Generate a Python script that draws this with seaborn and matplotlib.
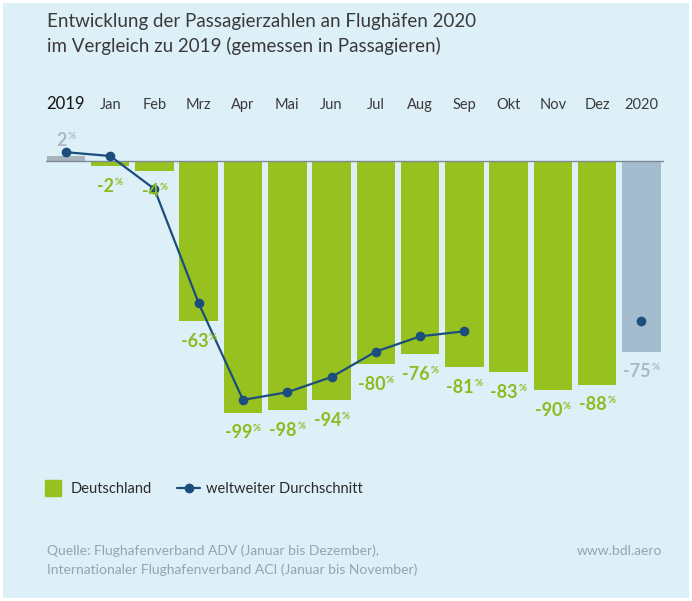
import numpy as np
import pandas as pd
import matplotlib
matplotlib.use("Agg")
import matplotlib.pyplot as plt
import seaborn as sns
from matplotlib.lines import Line2D
from matplotlib.patches import Rectangle
from matplotlib.offsetbox import TextArea, HPacker, AnnotationBbox

# data
categories = ['2019', 'Jan', 'Feb', 'Mrz', 'Apr', 'Mai', 'Jun', 'Jul', 'Aug', 'Sep',
              'Okt', 'Nov', 'Dez', '2020']
deutschland = [2, -2, -4, -63, -99, -98, -94, -80, -76, -81, -83, -90, -88, -75]
welt_monate = ['2019', 'Jan', 'Feb', 'Mrz', 'Apr', 'Mai', 'Jun', 'Jul', 'Aug', 'Sep']
welt = [3.5, 2, -11, -56, -94, -91, -85, -75, -69, -67]
welt_2020 = -63

bg = '#ddf0f8'
green = '#97c11f'
green_txt = '#8dbb1f'
gray_2019 = '#a9b3bc'
gray_2020 = '#a4bccd'
gray_txt = '#a9b8c5'
blue = '#1b4e7c'

sns.set_style('white')
plt.rcParams['font.family'] = ['Lato', 'DejaVu Sans']

df = pd.DataFrame({'monat': categories, 'wert': deutschland})
bar_cols = [gray_2019] + [green] * 12 + [gray_2020]

fig = plt.figure(figsize=(6.92, 6.01), dpi=100)
fig.patch.set_facecolor('white')
fig.patches.append(Rectangle((3 / 692, 3 / 601), 686 / 692, 595 / 601,
                             transform=fig.transFigure, facecolor=bg,
                             edgecolor='none', zorder=-10))

ax = fig.add_axes([46 / 692, 1 - 440 / 601, 617.6 / 692, 300 / 601])
ax.set_facecolor('none')

sns.barplot(data=df, x='monat', y='wert', hue='monat', palette=bar_cols,
            legend=False, width=0.87, saturation=1, linewidth=0, ax=ax, zorder=2)

ax.axhline(0, color='#7d8a95', lw=1, zorder=3)

# weltweiter Durchschnitt
sns.lineplot(x=np.arange(len(welt)), y=welt, color=blue, lw=1.6, marker='o',
             markersize=7, markeredgewidth=0, ax=ax, zorder=5)
ax.plot([13], [welt_2020], 'o', color=blue, markersize=7, markeredgewidth=0, zorder=5)

ax.set_xlim(-0.45, 13.5)
ax.set_ylim(-109.8, 8.3)
ax.set_xlabel('')
ax.set_ylabel('')
ax.set_yticks([])
for s in ax.spines.values():
    s.set_visible(False)

ax.xaxis.set_ticks_position('top')
ax.tick_params(axis='x', length=0, pad=20, labelsize=10.5, labelcolor='#3a3a3a')
lbl0 = ax.get_xticklabels()[0]
lbl0.set_fontsize(12)
lbl0.set_color('#111111')

# value labels with small superscript %
for i, v in enumerate(deutschland):
    col = gray_txt if categories[i] in ('2019', '2020') else green_txt
    num = TextArea(str(v), textprops=dict(color=col, fontsize=13, fontweight='bold'))
    pct = TextArea('%', textprops=dict(color=col, fontsize=7, fontweight='bold'))
    box = HPacker(children=[num, pct], align='top', pad=0, sep=0.5)
    if v > 0:
        ab = AnnotationBbox(box, (i, v), xybox=(0, 5), xycoords='data',
                            boxcoords='offset points', box_alignment=(0.5, 0),
                            frameon=False, pad=0, zorder=6)
    else:
        ab = AnnotationBbox(box, (i, v), xybox=(0, -8.5), xycoords='data',
                            boxcoords='offset points', box_alignment=(0.5, 1),
                            frameon=False, pad=0, zorder=6)
    ax.add_artist(ab)

# title
fig.text(47 / 692, 1 - 22 / 601, 'Entwicklung der Passagierzahlen an Flughäfen 2020',
         fontsize=13.5, color='#3a3a3a', va='center')
fig.text(47 / 692, 1 - 46 / 601, 'im Vergleich zu 2019 (gemessen in Passagieren)',
         fontsize=13.5, color='#3a3a3a', va='center')

# legend
handles = [Line2D([], [], marker='s', linestyle='', markersize=11, color=green),
           Line2D([], [], marker='o', color=blue, lw=1.6, markersize=6)]
fig.legend(handles, ['Deutschland', 'weltweiter Durchschnitt'], loc='center left',
           bbox_to_anchor=(28.5 / 692, 1 - 489 / 601), ncol=2, frameon=False,
           fontsize=10.5, handlelength=1.6, handletextpad=0.4, columnspacing=1.7,
           labelcolor='#2a2a2a')

# source
src = '#97a3ad'
fig.text(47 / 692, 1 - 551 / 601, 'Quelle: Flughafenverband ADV (Januar bis Dezember),',
         fontsize=10, color=src, va='center')
fig.text(47 / 692, 1 - 570 / 601, 'Internationaler Flughafenverband ACI (Januar bis November)',
         fontsize=10, color=src, va='center')
fig.text(662 / 692, 1 - 551 / 601, 'www.bdl.aero', fontsize=10, color=src,
         va='center', ha='right')

fig.savefig('out.png', dpi=100, facecolor=fig.get_facecolor())
